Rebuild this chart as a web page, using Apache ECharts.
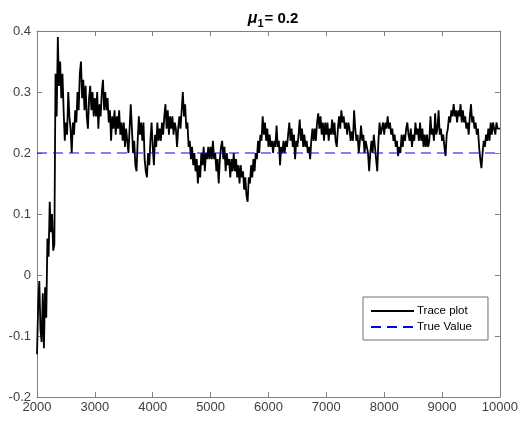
<!DOCTYPE html>
<html>
<head>
<meta charset="utf-8">
<script src="https://cdn.jsdelivr.net/npm/echarts@6/dist/echarts.min.js"></script>
<style>html,body{margin:0;padding:0;background:#fff;}#c{width:521px;height:427px;}</style>
</head>
<body>
<div id="c"></div>
<script>
// Trace values, one per 20 iterations from 2000 to 10000
const iterStart = 2000;
const iterStep = 20;
const traceValues = [
  -0.13,-0.05,-0.01,-0.09,-0.11,-0.03,-0.12,-0.02,-0.07,0.06,
  0.03,0.12,0.07,0.10,0.04,0.05,0.33,0.26,0.39,0.31,
  0.35,0.29,0.33,0.27,0.22,0.25,0.23,0.30,0.26,0.24,
  0.20,0.25,0.23,0.27,0.25,0.30,0.27,0.33,0.35,0.29,
  0.32,0.27,0.31,0.26,0.24,0.29,0.31,0.27,0.30,0.26,
  0.29,0.26,0.30,0.24,0.28,0.26,0.30,0.32,0.27,0.30,
  0.27,0.29,0.25,0.27,0.22,0.26,0.24,0.27,0.23,0.26,
  0.24,0.27,0.23,0.25,0.22,0.25,0.21,0.24,0.22,0.20,
  0.24,0.28,0.24,0.20,0.22,0.18,0.17,0.22,0.26,0.23,
  0.25,0.22,0.25,0.19,0.17,0.16,0.20,0.18,0.22,0.25,
  0.21,0.18,0.23,0.21,0.25,0.22,0.24,0.22,0.25,0.23,
  0.26,0.28,0.24,0.27,0.23,0.26,0.24,0.26,0.23,0.25,
  0.24,0.21,0.24,0.26,0.24,0.27,0.30,0.26,0.28,0.24,
  0.25,0.21,0.22,0.19,0.21,0.18,0.20,0.17,0.19,0.15,
  0.18,0.16,0.20,0.18,0.21,0.17,0.20,0.19,0.21,0.19,
  0.21,0.19,0.22,0.19,0.20,0.17,0.19,0.15,0.19,0.21,
  0.22,0.19,0.21,0.17,0.20,0.18,0.19,0.16,0.19,0.17,
  0.20,0.17,0.19,0.16,0.18,0.15,0.18,0.16,0.17,0.14,
  0.16,0.13,0.12,0.16,0.15,0.18,0.16,0.19,0.17,0.20,
  0.19,0.22,0.20,0.23,0.22,0.26,0.23,0.25,0.22,0.24,
  0.21,0.23,0.21,0.22,0.20,0.22,0.21,0.245,0.21,0.22,
  0.18,0.21,0.20,0.22,0.20,0.22,0.21,0.23,0.25,0.22,
  0.24,0.21,0.23,0.19,0.22,0.21,0.23,0.255,0.22,0.24,
  0.21,0.23,0.21,0.22,0.20,0.21,0.19,0.22,0.24,0.22,
  0.24,0.22,0.25,0.265,0.24,0.26,0.23,0.25,0.22,0.25,
  0.23,0.25,0.22,0.24,0.23,0.255,0.23,0.25,0.22,0.21,
  0.24,0.26,0.24,0.27,0.25,0.26,0.24,0.25,0.23,0.25,
  0.24,0.22,0.235,0.22,0.27,0.24,0.22,0.23,0.20,0.22,
  0.245,0.22,0.23,0.20,0.22,0.21,0.20,0.17,0.20,0.22,
  0.20,0.23,0.21,0.19,0.17,0.22,0.25,0.23,0.24,0.25,
  0.23,0.25,0.24,0.26,0.24,0.25,0.23,0.24,0.22,0.23,
  0.21,0.22,0.195,0.21,0.20,0.23,0.21,0.23,0.22,0.24,
  0.25,0.23,0.22,0.24,0.21,0.23,0.22,0.25,0.23,0.24,
  0.22,0.25,0.22,0.24,0.21,0.23,0.21,0.23,0.21,0.22,
  0.26,0.23,0.24,0.22,0.265,0.23,0.24,0.27,0.23,0.24,
  0.22,0.23,0.21,0.195,0.23,0.24,0.26,0.25,0.27,0.26,
  0.28,0.26,0.27,0.25,0.27,0.26,0.28,0.25,0.27,0.25,
  0.26,0.24,0.25,0.23,0.26,0.28,0.25,0.26,0.24,0.25,
  0.23,0.24,0.21,0.19,0.175,0.20,0.22,0.21,0.23,0.22,
  0.24,0.22,0.25,0.23,0.25,0.24,0.23,0.25,0.24,0.24,
  0.24
];
const trueValue = 0.2;
const xRange = [2000, 10000];
const yRange = [-0.2, 0.4];
const xInterval = 1000;
const yInterval = 0.1;
const seriesNames = ['Trace plot', 'True Value'];
const titleMain = '\u03bc';
const titleSub = '1';
const titleRest = '= 0.2';

const traceData = traceValues.map((v, i) => [iterStart + i * iterStep, v]);
const trueData = [[xRange[0], trueValue], [xRange[1], trueValue]];

const FONT = 'Liberation Sans, Arial, Helvetica, sans-serif';
const axisColor = '#808080';
const labelColor = '#404040';

const chart = echarts.init(document.getElementById('c'), null, {renderer: 'canvas'});
chart.setOption({
  animation: false,
  backgroundColor: '#ffffff',
  title: {
    text: '{mu|' + titleMain + '}{sub|' + titleSub + '}{b|' + titleRest + '}',
    left: 268,
    textAlign: 'center',
    top: 3,
    textStyle: {
      rich: {
        mu: {fontFamily: FONT, fontSize: 16, fontStyle: 'italic', fontWeight: 'bold', color: '#000', lineHeight: 20, verticalAlign: 'middle'},
        sub: {fontFamily: FONT, fontSize: 11, fontWeight: 'bold', color: '#000', padding: [10, 1, 0, 0], verticalAlign: 'bottom'},
        b: {fontFamily: FONT, fontSize: 15, fontWeight: 'bold', color: '#000', verticalAlign: 'middle'}
      }
    }
  },
  grid: {left: 37, right: 20, top: 31, bottom: 30, containLabel: false},
  legend: {
    show: true,
    orient: 'vertical',
    left: 363,
    top: 297,
    padding: [8, 16, 7, 7],
    itemWidth: 43,
    itemHeight: 12,
    itemGap: 4,
    borderColor: '#707070',
    borderWidth: 1,
    backgroundColor: '#ffffff',
    itemStyle: {color: 'transparent', borderColor: 'transparent', borderWidth: 0},
    textStyle: {fontFamily: FONT, fontSize: 11.5, color: '#000', padding: [0, 0, 0, -2]},
    data: seriesNames
  },
  xAxis: [{
    type: 'value', min: xRange[0], max: xRange[1], interval: xInterval,
    axisLine: {show: true, onZero: false, lineStyle: {color: axisColor, width: 1}},
    axisTick: {show: true, inside: true, length: 5, lineStyle: {color: axisColor}},
    axisLabel: {color: labelColor, fontFamily: FONT, fontSize: 13, margin: 4, formatter: v => String(v)},
    splitLine: {show: false}
  }, {
    type: 'value', position: 'top', min: xRange[0], max: xRange[1], interval: xInterval,
    axisLine: {show: true, onZero: false, lineStyle: {color: axisColor, width: 1}},
    axisTick: {show: true, inside: true, length: 5, lineStyle: {color: axisColor}},
    axisLabel: {show: false},
    splitLine: {show: false}
  }],
  yAxis: [{
    type: 'value', min: yRange[0], max: yRange[1], interval: yInterval,
    axisLine: {show: true, onZero: false, lineStyle: {color: axisColor, width: 1}},
    axisTick: {show: true, inside: true, length: 5, lineStyle: {color: axisColor}},
    axisLabel: {color: labelColor, fontFamily: FONT, fontSize: 13, margin: 6,
      formatter: v => (Math.abs(v) < 1e-9 ? '0' : String(Math.round(v * 10) / 10))},
    splitLine: {show: false}
  }, {
    type: 'value', position: 'right', min: yRange[0], max: yRange[1], interval: yInterval,
    axisLine: {show: true, onZero: false, lineStyle: {color: axisColor, width: 1}},
    axisTick: {show: true, inside: true, length: 5, lineStyle: {color: axisColor}},
    axisLabel: {show: false},
    splitLine: {show: false}
  }],
  series: [{
    name: seriesNames[0],
    type: 'line',
    data: traceData,
    symbol: 'none',
    lineStyle: {color: '#000000', width: 1.8},
    itemStyle: {color: '#000000'},
    z: 3
  }, {
    name: seriesNames[1],
    type: 'line',
    data: trueData,
    symbol: 'none',
    lineStyle: {color: '#0000ff', width: 1, type: [10, 6]},
    itemStyle: {color: '#0000ff'},
    z: 4
  }]
});
</script>
</body>
</html>
